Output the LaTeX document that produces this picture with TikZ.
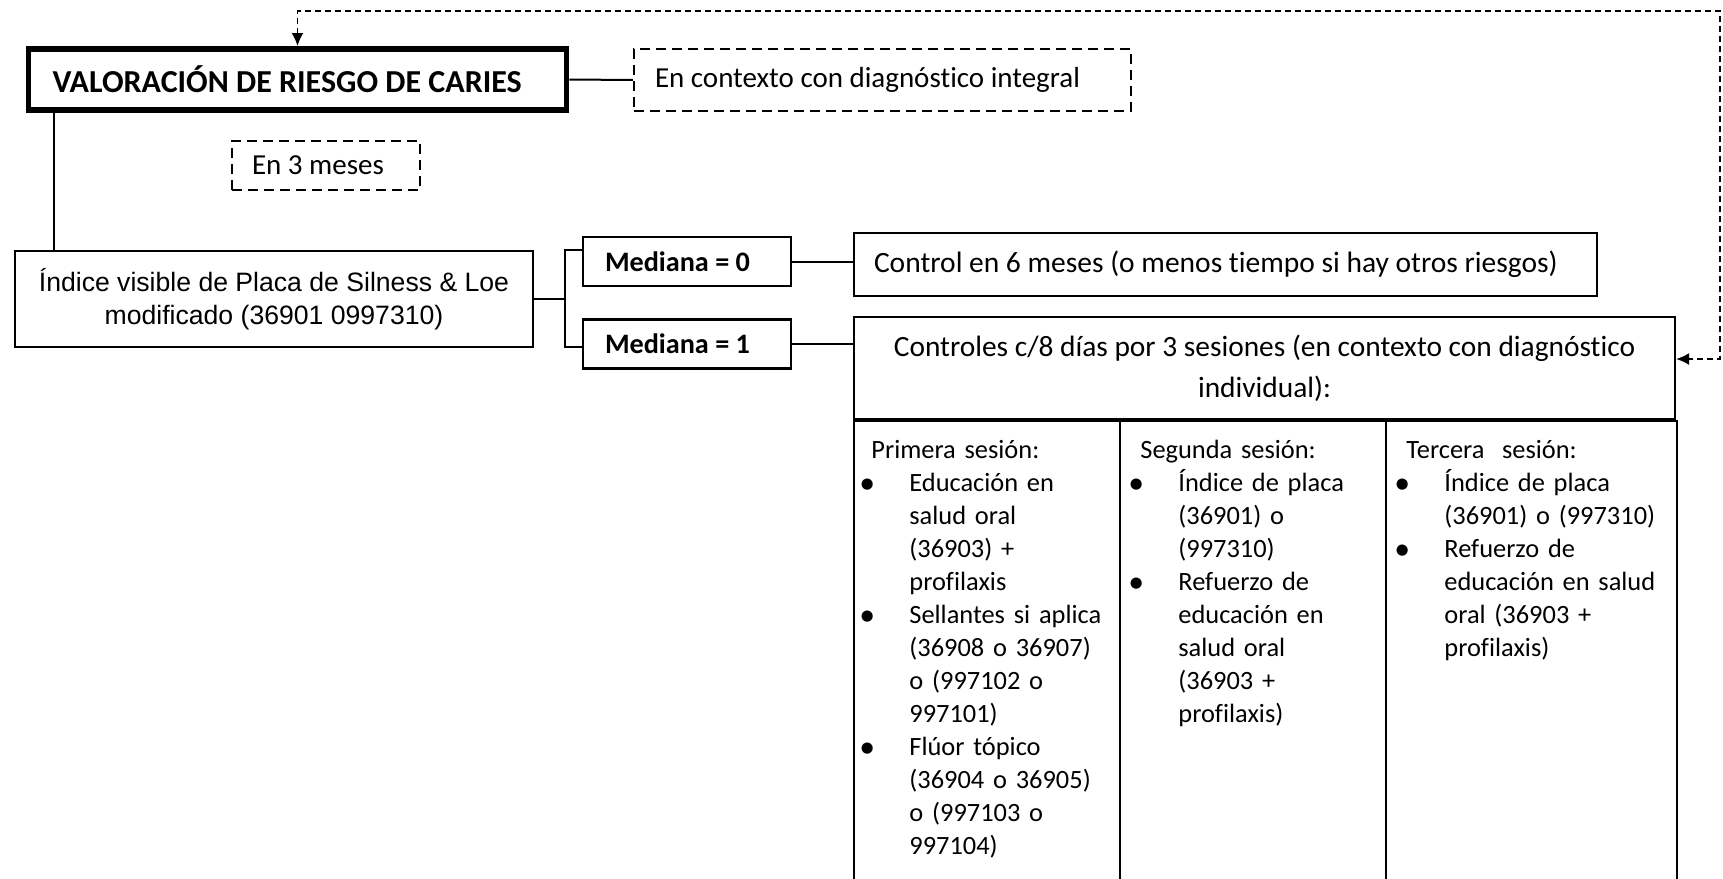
\documentclass[tikz,border=0pt]{standalone}
\usepackage{fontspec}
\setmainfont{Carlito}[Ligatures=NoCommon]
\newfontfamily\arialf{Liberation Sans}
\usetikzlibrary{arrows.meta,calc}
\tikzset{
  box/.style={draw, line width=1.1pt, inner sep=0pt},
  dbox/.style={draw, line width=1.1pt, dash pattern=on 5pt off 3pt, inner sep=0pt},
  conn/.style={line width=1pt},
  tip/.tip={Latex[length=6.5pt,width=6pt]},
  loopline/.style={line width=0.85pt, dash pattern=on 3pt off 2pt, tip-tip},
  body/.style={font=\fontsize{14.5}{16.5}\selectfont},
  boldbody/.style={font=\bfseries\fontsize{14.1}{16.5}\selectfont},
  colbox/.style={draw, line width=1.1pt, inner sep=0pt, anchor=north west, minimum height=240pt},
  coltext/.style={font=\fontsize{13.2}{16.5}\selectfont, anchor=north west, inner sep=0pt, align=left, text width=200pt},
}
\newcommand\bl{\makebox[19pt][l]{\hspace*{-6pt}\raisebox{-0.07em}{\scalebox{1.2}{\textbullet}}}}
\newcommand\ind{\hspace*{19pt}}
\begin{document}
\begin{tikzpicture}[x=0.5pt,y=-0.5pt]
\useasboundingbox (0,0) rectangle (1723,878);

% main box
\node[box, line width=2.8pt, inner xsep=12pt, minimum height=30.7pt,
  font=\bfseries\fontsize{16}{19}\selectfont] (val) at (297.5,79.5)
  {\makebox[245pt][l]{VALORACIÓN DE RIESGO DE CARIES}};

\node[dbox, body, inner xsep=10.5pt, minimum height=31pt] (ctx) at (882.5,80)
  {\makebox[227.5pt][l]{En contexto con diagnóstico integral}};

\node[dbox, body, inner xsep=10pt, minimum height=24.5pt] (m3) at (326,165.5)
  {\makebox[74pt][l]{En 3 meses}};

\node[box, minimum width=259pt, minimum height=48pt, align=center,
  font=\arialf\fontsize{13.3}{16.5}\selectfont] (idx) at (274,299)
  {Índice visible de Placa de Silness \& Loe\\modificado (36901 0997310)};

\node[box, boldbody, inner xsep=11pt, minimum height=24.5pt] (m0) at (687,261.5) {\makebox[82pt][l]{Mediana = 0}};
\node[box, boldbody, inner xsep=11pt, minimum height=24.5pt] (m1) at (687,344) {\makebox[82pt][l]{Mediana = 1}};

\node[box, inner xsep=10pt, minimum height=31.5pt, font=\fontsize{14.75}{16.5}\selectfont] (c6) at (1225.5,264.5)
  {\makebox[351.5pt][l]{Control en 6 meses (o menos tiempo si hay otros riesgos)}};

\node[box, minimum width=410.5pt, minimum height=51pt, align=center,
  font=\fontsize{14.7}{20.5}\selectfont] (ctl) at (1264.5,368)
  {Controles c/8 días por 3 sesiones (en contexto con diagnóstico\\individual):};

% table columns
\node[colbox, minimum width=133pt] (c1) at (853,420) {};
\node[colbox, minimum width=133pt] (c2) at (1119,420) {};
\node[colbox, minimum width=145.5pt] (c3) at (1385,420) {};

\node[coltext] (t1) at ([xshift=9pt,yshift=-7.5pt]c1.north west) {\strut Primera sesión:\\
\bl Educación en\\ \ind salud oral\\ \ind (36903) +\\ \ind profilaxis\\
\bl Sellantes si aplica\\ \ind (36908 o 36907)\\ \ind o (997102 o\\ \ind 997101)\\
\bl Flúor tópico\\ \ind (36904 o 36905)\\ \ind o (997103 o\\ \ind 997104)};

\node[coltext] (t2) at ([xshift=10.5pt,yshift=-7.5pt]c2.north west) {\strut Segunda sesión:\\
\bl Índice de placa\\ \ind (36901) o\\ \ind (997310)\\
\bl Refuerzo de\\ \ind educación en\\ \ind salud oral\\ \ind (36903 +\\ \ind profilaxis)};

\node[coltext] (t3) at ([xshift=10.5pt,yshift=-7.5pt]c3.north west) {\strut Tercera\ \ sesión:\\
\bl Índice de placa\\ \ind (36901) o (997310)\\
\bl Refuerzo de\\ \ind educación en salud\\ \ind oral (36903 +\\ \ind profilaxis)};

% connectors
\draw[conn] (val.east) -- (ctx.west);
\draw[conn] ([xshift=14pt]val.south west) -- ([xshift=14pt]val.south west |- idx.north);
\coordinate (brk) at ([xshift=-8.5pt]m0.west);
\draw[conn] (idx.east) -- (idx.east -| brk);
\draw[conn] ([yshift=5.75pt]m0.west) -| ([xshift=-8.5pt,yshift=-1.5pt]m1.west) -- ([yshift=-1.5pt]m1.west);
\draw[conn] (m0.east) -- (m0.east -| c6.west);
\draw[conn] (m1.east) -- (m1.east -| ctl.west);

% feedback loop
\coordinate (loopcorner) at (1720,11);
\draw[loopline] (val.north) |- (loopcorner) |- ([yshift=4.5pt]ctl.east);
\end{tikzpicture}
\end{document}
